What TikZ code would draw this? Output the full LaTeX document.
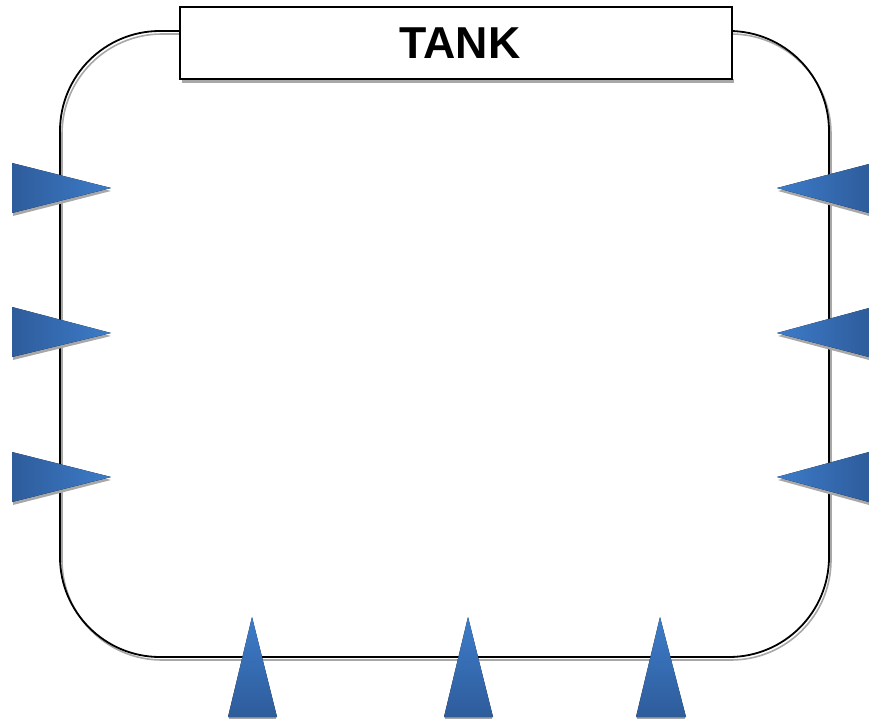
\documentclass[tikz,border=0pt]{standalone}
\usepackage{fontspec}
\setmainfont{Liberation Sans}
\definecolor{portdark}{HTML}{2E5C9B}
\definecolor{portlight}{HTML}{3D7CC9}
\definecolor{shadowgray}{HTML}{A8A8A8}
\begin{document}
\begin{tikzpicture}[x=1pt,y=-1pt,
    wall/.style={draw=black,line width=1.8pt,rounded corners=100pt},
    wallshadow/.style={draw=shadowgray,line width=1.6pt,rounded corners=100pt},
    portshadow/.style={fill=shadowgray,draw=none},
    inletleft/.style={draw=none,left color=portdark,right color=portlight},
    inletright/.style={draw=none,left color=portlight,right color=portdark},
    outlet/.style={draw=none,top color=portlight,bottom color=portdark},
    titlebox/.style={draw=black,fill=white,line width=1.6pt,minimum width=552pt,
      minimum height=72pt,inner sep=0pt,font=\bfseries\fontsize{44.7}{50}\selectfont}]
  \useasboundingbox (0,0) rectangle (869,719);
  % tank wall
  \draw[wallshadow] (62,34) rectangle (831,660);
  \draw[wall] (60,31) rectangle (829,657);
  % title
  \fill[shadowgray] (182,79) rectangle (734,83);
  \node[titlebox] (title) at (456,43) {\hspace*{8pt}TANK};
  % left ports
  \begin{scope}
    \fill[portshadow] (13,166) -- (111,191) -- (13,216) -- cycle;
    \fill[portshadow] (13,310) -- (111,336) -- (13,360) -- cycle;
    \fill[portshadow] (13,455) -- (111,480) -- (13,505) -- cycle;
    \fill[inletleft] (12,163) -- (111,188) -- (12,213) -- cycle;
    \fill[inletleft] (12,307) -- (111,333) -- (12,357) -- cycle;
    \fill[inletleft] (12,452) -- (111,477) -- (12,502) -- cycle;
  \end{scope}
  % right ports
  \begin{scope}
    \fill[portshadow] (869,168) -- (778,191) -- (869,216) -- cycle;
    \fill[portshadow] (869,312) -- (778,336) -- (869,360) -- cycle;
    \fill[portshadow] (869,456) -- (778,480) -- (869,505) -- cycle;
    \fill[inletright] (869,164) -- (777,188) -- (869,213) -- cycle;
    \fill[inletright] (869,308) -- (777,333) -- (869,357) -- cycle;
    \fill[inletright] (869,452) -- (777,477) -- (869,502) -- cycle;
  \end{scope}
  % bottom ports
  \begin{scope}
    \fill[portshadow] (229,716) rectangle (276,719);
    \fill[portshadow] (445,716) rectangle (492,719);
    \fill[portshadow] (637,716) rectangle (685,719);
    \fill[outlet] (252,617) -- (277,717) -- (228,717) -- cycle;
    \fill[outlet] (468,617) -- (493,717) -- (444,717) -- cycle;
    \fill[outlet] (660,617) -- (686,717) -- (636,717) -- cycle;
  \end{scope}
\end{tikzpicture}
\end{document}
